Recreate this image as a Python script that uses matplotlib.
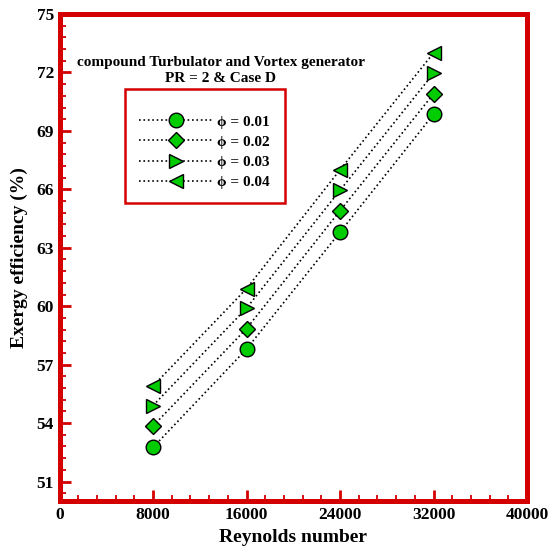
import matplotlib
matplotlib.use("Agg")
import matplotlib.pyplot as plt
from matplotlib.ticker import MultipleLocator

plt.rcParams['font.family'] = ['Liberation Serif', 'DejaVu Serif']
plt.rcParams['font.weight'] = 'bold'

# data
reynolds = [8000, 16000, 24000, 32000]
eff_001 = [52.75, 57.8, 63.8, 69.85]
eff_002 = [53.85, 58.85, 64.9, 70.9]
eff_003 = [54.9, 59.9, 65.95, 71.95]
eff_004 = [55.9, 60.9, 67.0, 73.0]
labels = ['\u03d5 = 0.01', '\u03d5 = 0.02', '\u03d5 = 0.03', '\u03d5 = 0.04']
markers = ['o', 'D', '>', '<']
sizes = [10.5, 8.5, 10, 10]

red = '#d40000'
green = '#00cc00'

fig = plt.figure(figsize=(5.48, 5.47), dpi=100)
ax = fig.add_axes([0.1086, 0.0841, 0.8531, 0.8903])

for ys, lab, m, s in zip([eff_001, eff_002, eff_003, eff_004], labels, markers, sizes):
    ax.plot(reynolds, ys, linestyle=':', color='black', linewidth=1.2,
            marker=m, markersize=s, markerfacecolor=green,
            markeredgecolor='black', markeredgewidth=1, label=lab)

ax.set_xlim(0, 40000)
ax.set_ylim(50, 75)
ax.xaxis.set_major_locator(MultipleLocator(8000))
ax.xaxis.set_minor_locator(MultipleLocator(1600))
ax.yaxis.set_major_locator(MultipleLocator(3))
ax.yaxis.set_minor_locator(MultipleLocator(0.6))

for sp in ax.spines.values():
    sp.set_color(red)
    sp.set_linewidth(3.6)

ax.tick_params(which='both', direction='in', color=red, top=False, right=False,
               labelsize=12.5, labelcolor='black')
ax.tick_params(which='major', length=8, width=2, pad=4)
ax.tick_params(which='minor', length=4, width=1.3)
for t in ax.get_xticklabels() + ax.get_yticklabels():
    t.set_fontweight('bold')

ax.set_xlabel('Reynolds number', fontsize=14, fontweight='bold', labelpad=5)
ax.set_ylabel('Exergy efficiency (%)', fontsize=14, fontweight='bold', labelpad=6)

ax.text(0.345, 0.884, 'compound Turbulator and Vortex generator\nPR = 2 & Case D',
        transform=ax.transAxes, ha='center', va='center', fontsize=11,
        fontweight='bold', linespacing=1.25)

leg = ax.legend(loc='upper left', bbox_to_anchor=(0.140, 0.846), borderaxespad=0,
                numpoints=1, handlelength=4.8, handletextpad=0.3,
                labelspacing=0.42, borderpad=0.95, fancybox=False, framealpha=1,
                prop={'weight': 'bold', 'size': 11},
                title=' ', title_fontsize=5)
leg.get_frame().set_edgecolor(red)
leg.get_frame().set_linewidth(1.8)

fig.savefig('out.png', dpi=100)
